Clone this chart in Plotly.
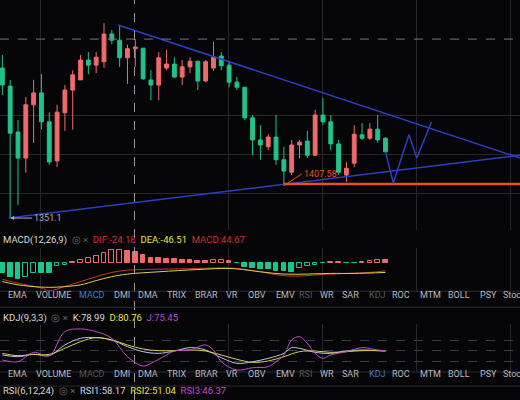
import plotly.graph_objects as go

# candles (index, open, high, low, close)
opens  = [1616,1584,1503,1457,1551,1572,1521,1452,1537,1577,1595,1630,1621,1627,1676,1665,1634,1650,1651,1595,
          1586,1616,1623,1600,1618,1628,1593,1616,1637,1621,1591,1582,1528,1489,1477,1494,1454,1432,1480,1487,
          1462,1533,1521,1482,1427,1448,1498,1492,1508,1492]
highs  = [1639,1595,1524,1565,1595,1605,1538,1551,1586,1612,1639,1644,1644,1695,1683,1690,1657,1667,1651,1612,
          1644,1648,1635,1630,1635,1628,1630,1662,1644,1627,1600,1582,1533,1515,1499,1533,1477,1489,1489,1505,
          1542,1563,1533,1489,1450,1515,1519,1519,1533,1494]
lows   = [1568,1351,1374,1431,1484,1507,1445,1441,1505,1507,1595,1605,1607,1616,1658,1618,1588,1618,1595,1559,
          1559,1612,1598,1586,1607,1577,1591,1611,1612,1582,1577,1524,1462,1454,1471,1445,1408,1427,1457,1457,
          1462,1515,1471,1427,1415,1441,1489,1489,1484,1468]
closes = [1586,1501,1457,1551,1572,1521,1450,1538,1577,1604,1630,1621,1635,1676,1665,1634,1650,1653,1597,1586,
          1634,1623,1600,1618,1628,1593,1627,1635,1620,1591,1582,1528,1489,1480,1494,1454,1434,1480,1485,1462,
          1533,1521,1482,1432,1439,1499,1492,1508,1489,1468]
idx = list(range(len(opens)))

macd_hist = [-33,-43,-51,-43,-31,-31,-31,-11,-6,3,8,15,20,30,38,40,37,33,24,15,13,11,10,8,7,6,5,7,8,4,
             -2,-12,-16,-18,-20,-26,-26,-28,-15,-10,-7,-2,3,3,-2,-2,3,5,7,7]
dif_x = [0,2,5,6,8,10,12,14,16,20,25,28,30,33,36,38,41,44,47,49]
dif_y = [-51,-63,-78,-86,-73,-58,-43,-30,-23,-20,-18,-16,-18,-28,-40,-41,-36,-33,-30,-25]
dea_x = [0,2,5,7,10,12,14,16,20,25,28,30,33,36,39,42,45,49]
dea_y = [-58,-68,-75,-75,-68,-55,-43,-35,-28,-21,-18,-19,-28,-35,-35,-33,-33,-30]

k_x = [0,2,4,6,8,10,12,14,16,18,20,22,24,26,28,30,32,34,36,37,38,40,42,44,46,48,49]
k_y = [37.8,33.1,39.7,35.9,66,84.8,86.7,80,61.3,47.2,42.5,49,58.5,51.9,30.3,14.3,18.9,28.4,42.5,58.5,56.6,
       45.3,42.5,49,51.9,50,49]
d_x = [0,2,4,6,8,10,12,14,16,18,20,22,24,26,28,30,32,34,36,38,40,42,44,46,48,49]
d_y = [42.5,35.9,39.7,39.7,56.6,75.4,86.7,80,66,54.7,50,50,51.9,49,37.8,25.6,17.1,20.9,33.1,47.2,49,45.3,
       47.2,50,50,49]
j_x = [0,2,4,6,8,10,12,14,16,18,19,21,22,24,26,27,28,30,32,34,35,36,37,38,39,40,41,42,44,46,48,49]
j_y = [23.7,18.9,45.3,35.9,103.6,111,103.6,84.8,33.1,6.8,14.3,37.8,49,51.9,66,51.9,18.9,-4.5,2.1,4.9,18.9,
       37.8,80,89.5,70.7,42.5,28.4,37.8,47.2,58.5,51.9,50]

upper_x, upper_y = [14.8, 66.2], [1692, 1457]
lower_x, lower_y = [0.8, 66.2], [1351, 1462]
support_x, support_y = [36, 66.2], [1411, 1411]
zig_x, zig_y = [49, 50, 52, 53, 54.9], [1468, 1413, 1498, 1457, 1521]

tabs = ["EMA","VOLUME","MACD","DMI","DMA","TRIX","BRAR","VR","OBV","EMV","RSI","WR","SAR","KDJ","ROC","MTM","BOLL","PSY","Stoc"]
tab_px = [17,53,92,122,148,176,206,232,257,285,305,327,350,377,401,430,459,488,512]

RED, GREEN, BLUE = "#ef6b6b", "#1fc48c", "#2b3fc4"
fig = go.Figure()
fig.add_trace(go.Candlestick(x=idx, open=opens, high=highs, low=lows, close=closes,
                             increasing=dict(line=dict(color=RED, width=1), fillcolor=RED),
                             decreasing=dict(line=dict(color=GREEN, width=1), fillcolor=GREEN),
                             whiskerwidth=0, xaxis="x", yaxis="y"))
for xs, ys, c, w in [(upper_x, upper_y, BLUE, 1.5), (lower_x, lower_y, BLUE, 1.5),
                     (support_x, support_y, "#e8501c", 2.5), (zig_x, zig_y, BLUE, 1.5)]:
    fig.add_trace(go.Scatter(x=xs, y=ys, mode="lines", line=dict(color=c, width=w), xaxis="x", yaxis="y"))

prev = [0] + macd_hist[:-1]
fills = []
for h, p in zip(macd_hist, prev):
    col = RED if h >= 0 else GREEN
    fills.append("rgba(0,0,0,0)" if h > p else col)
fig.add_trace(go.Bar(x=idx, y=macd_hist, marker=dict(color=fills,
                     line=dict(color=[RED if h >= 0 else GREEN for h in macd_hist], width=1)),
                     width=0.6, xaxis="x2", yaxis="y2"))
fig.add_trace(go.Scatter(x=dif_x, y=dif_y, mode="lines", line=dict(color="#d0302a", width=1, shape="spline"), xaxis="x2", yaxis="y2"))
fig.add_trace(go.Scatter(x=dea_x, y=dea_y, mode="lines", line=dict(color="#d8d04a", width=1, shape="spline"), xaxis="x2", yaxis="y2"))
for xs, ys, c in [(k_x, k_y, "#b8c4e8"), (d_x, d_y, "#d8d04a"), (j_x, j_y, "#c04cc8")]:
    fig.add_trace(go.Scatter(x=xs, y=ys, mode="lines", line=dict(color=c, width=1, shape="spline"), xaxis="x3", yaxis="y3"))

vgrid = [4.86, 28.9, 40.9, 52.9, 65]
xax = dict(range=[-0.3, 66.2], autorange=False, tickvals=vgrid, showticklabels=False, gridcolor="#26262c",
           zeroline=False, rangeslider=dict(visible=False), fixedrange=True, domain=[0, 1])
fig.update_layout(
    width=520, height=400, margin=dict(l=0, r=0, t=0, b=0), showlegend=False,
    paper_bgcolor="#060608", plot_bgcolor="#060608", bargap=0,
    font=dict(family="Roboto", color="#c8c8cc", size=11),
    xaxis=dict(xax, anchor="y"),
    xaxis2=dict(xax, anchor="y2"),
    xaxis3=dict(xax, anchor="y3"),
    yaxis=dict(domain=[0.425, 1], range=[1330, 1736], tickvals=[1395, 1464, 1533],
               showticklabels=False, gridcolor="#26262c", zeroline=False),
    yaxis2=dict(domain=[0.27, 0.38], range=[-90, 45], showgrid=False, showticklabels=False, zeroline=False),
    yaxis3=dict(domain=[0.07, 0.19], range=[-10, 125], tickvals=[20, 50, 80], showticklabels=False,
                gridcolor="#3a3a40", griddash="dash", zeroline=False),
)
fig.add_shape(type="line", xref="paper", x0=0, x1=1, y0=1667, y1=1667, yref="y",
              line=dict(color="#777", width=1, dash="dash"))
fig.add_shape(type="line", x0=16.9, x1=16.9, yref="paper", y0=0.0, y1=1,
              line=dict(color="#999", width=1, dash="dash"))
for yp in [0.272, 0.232, 0.07, 0.035]:
    fig.add_shape(type="line", xref="paper", yref="paper", x0=0, x1=1, y0=yp, y1=yp,
                  line=dict(color="#2a2a30", width=1))

def label(x, y, parts):
    text = "  ".join(f"<span style='color:{c}'>{t}</span>" for t, c in parts)
    fig.add_annotation(x=x, y=y, xref="paper", yref="paper", text=text, showarrow=False,
                       xanchor="left", yanchor="middle", font=dict(size=9.5))

label(0.002, 0.4, [("MACD(12,26,9)", "#d8d8dc"), ("◎ ×", "#666"), ("DIF:-24.18", "#d0302a"),
                   ("DEA:-46.51", "#e8e050"), ("MACD:44.67", "#d0302a")])
label(0.002, 0.205, [("KDJ(9,3,3)", "#d8d8dc"), ("◎ ×", "#666"), ("K:78.99", "#d8d8dc"),
                     ("D:80.76", "#e8e050"), ("J:75.45", "#c04cc8")])
label(0.002, 0.022, [("RSI(6,12,24)", "#d8d8dc"), ("◎ ×", "#666"), ("RSI1:58.17", "#d8d8dc"),
                     ("RSI2:51.04", "#e8e050"), ("RSI3:46.37", "#c04cc8")])
for row_y, active in [(0.245, "MACD"), (0.0475, "KDJ")]:
    for t, px in zip(tabs, tab_px):
        col = "#3a7ad8" if t == active else ("#55555c" if t in ("MACD", "RSI", "KDJ") else "#b8b8c0")
        fig.add_annotation(x=px / 520, y=row_y, xref="paper", yref="paper", text=t, showarrow=False,
                           xanchor="center", font=dict(size=9, color=col))

fig.add_annotation(x=1, y=1351, text="1351.1", showarrow=True, ax=22, ay=0, arrowhead=2, arrowsize=0.8,
                   arrowcolor="#aab", font=dict(size=9, color="#aab"), xanchor="left")
fig.add_annotation(x=36, y=1408, text="1407.58", showarrow=True, ax=18, ay=-12, arrowwidth=1,
                   arrowhead=0, arrowcolor="#e8501c", font=dict(size=9, color="#e8501c"), xanchor="left")

fig.write_html("out.html", config={"displayModeBar": False},
               post_script="document.body.style.margin='0';document.body.style.background='#060608';")
